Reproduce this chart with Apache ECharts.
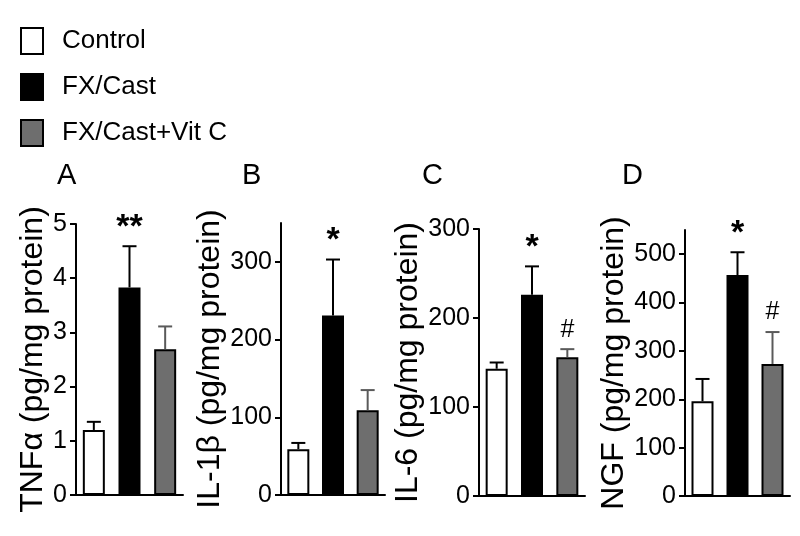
<!DOCTYPE html>
<html><head><meta charset="utf-8">
<script src="https://cdn.jsdelivr.net/npm/echarts@6/dist/echarts.min.js"></script>
<style>html,body{margin:0;padding:0;background:#fff}#c{width:800px;height:536px}</style>
</head><body><div id="c"></div>
<script>
const groups = ['Control', 'FX/Cast', 'FX/Cast+Vit C'];
const panelLetters = ['A', 'B', 'C', 'D'];
const yNames = ['TNFα (pg/mg protein)', 'IL-1β (pg/mg protein)', 'IL-6 (pg/mg protein)', 'NGF (pg/mg protein)'];
const yMax = [5, 350, 300, 550];
const yTicksA = [0, 1, 2, 3, 4, 5];
const yTicksB = [0, 100, 200, 300];
const yTicksC = [0, 100, 200, 300];
const yTicksD = [0, 100, 200, 300, 400, 500];
const meanA = [1.20, 3.83, 2.69];
const errA = [0.15, 0.76, 0.42];
const meanB = [59, 231, 109];
const errB = [8, 72, 26];
const meanC = [143, 226, 156];
const errC = [7, 32, 9];
const meanD = [196, 457, 273];
const errD = [46, 47, 66];
const sigA = ['', '**', ''];
const sigB = ['', '*', ''];
const sigC = ['', '*', '#'];
const sigD = ['', '*', '#'];

const panels = [
  {ticks: yTicksA, mean: meanA, err: errA, sig: sigA},
  {ticks: yTicksB, mean: meanB, err: errB, sig: sigB},
  {ticks: yTicksC, mean: meanC, err: errC, sig: sigC},
  {ticks: yTicksD, mean: meanD, err: errD, sig: sigD}
];
const fills = ['#ffffff', '#000000', '#6e6e6e'];
const errColors = ['#000000', '#000000', '#5a5a5a'];
const gridPos = [
  {left: 76, top: 224, width: 107, height: 271},
  {left: 281, top: 223, width: 104, height: 272},
  {left: 479, top: 229, width: 106, height: 267},
  {left: 685, top: 230, width: 105, height: 266}
];
const nameGaps = [25, 53, 50, 54];
const letterPos = [{left: 57, top: 161}, {left: 242, top: 161}, {left: 422, top: 161}, {left: 622, top: 161}];
const FONT = 'Liberation Sans, Arial, sans-serif';

const chart = echarts.init(document.getElementById('c'), null, {renderer: 'canvas'});
const series = [];
panels.forEach((p, pi) => {
  groups.forEach((g, gi) => {
    series.push({
      name: g, type: 'bar', xAxisIndex: pi, yAxisIndex: pi, stack: 'p' + pi,
      barWidth: 22, silent: true,
      itemStyle: {color: fills[gi], borderColor: '#000', borderWidth: 2},
      data: groups.map((_, i) => i === gi ? p.mean[i] : '-')
    });
  });
  series.push({
    type: 'custom', xAxisIndex: pi, yAxisIndex: pi, silent: true, z: 5,
    data: groups.map((_, i) => [i, p.mean[i], p.err[i]]),
    renderItem: function (params, api) {
      const i = api.value(0), m = api.value(1), e = api.value(2);
      const b = api.coord([i, m]);
      const t = api.coord([i, m + e]);
      const col = errColors[i];
      const children = [
        {type: 'line', shape: {x1: b[0], y1: b[1], x2: t[0], y2: t[1]}, style: {stroke: col, lineWidth: 2}},
        {type: 'line', shape: {x1: t[0] - 7, y1: t[1], x2: t[0] + 7, y2: t[1]}, style: {stroke: col, lineWidth: 2}}
      ];
      const s = p.sig[params.dataIndex];
      if (s) {
        const star = s.indexOf('*') >= 0;
        children.push({
          type: 'text',
          style: {
            text: s, x: t[0], y: t[1] - (star ? 2 : 7),
            align: 'center', verticalAlign: 'bottom',
            fontSize: star ? 34 : 25, fontWeight: star ? 'bold' : 'normal',
            fontFamily: FONT, fill: '#000'
          }
        });
      }
      return {type: 'group', children: children};
    }
  });
});

const option = {
  backgroundColor: '#fff',
  animation: false,
  title: panelLetters.map((l, i) => ({
    text: l, left: letterPos[i].left, top: letterPos[i].top, padding: 0,
    textStyle: {fontFamily: FONT, fontSize: 29, fontWeight: 'normal', color: '#000'}
  })),
  legend: {
    orient: 'vertical', left: 20, top: 27, itemWidth: 22, itemHeight: 26, itemGap: 18,
    icon: 'rect', selectedMode: false, padding: 0,
    data: groups.map((g, i) => ({name: g, itemStyle: {color: fills[i], borderColor: '#000', borderWidth: 2}})),
    textStyle: {fontFamily: FONT, fontSize: 26, lineHeight: 26, color: '#000', padding: [0, 0, 0, 14]}
  },
  grid: gridPos.map(g => Object.assign({containLabel: false}, g)),
  xAxis: gridPos.map((g, i) => ({
    type: 'category', gridIndex: i, data: groups,
    axisLine: {lineStyle: {color: '#000', width: 2}},
    axisTick: {show: false}, axisLabel: {show: false}, splitLine: {show: false}
  })),
  yAxis: panels.map((p, i) => ({
    type: 'value', gridIndex: i, min: 0, max: yMax[i],
    name: yNames[i], nameLocation: 'middle', nameGap: nameGaps[i],
    nameTextStyle: {fontFamily: FONT, fontSize: 32, color: '#000'},
    axisLine: {show: true, lineStyle: {color: '#000', width: 2}},
    axisTick: {show: true, length: 6, lineStyle: {color: '#000', width: 2}, customValues: p.ticks},
    axisLabel: {fontFamily: FONT, fontSize: 25, color: '#000', margin: 9, customValues: p.ticks},
    splitLine: {show: false}
  })),
  series: series
};
chart.setOption(option);
</script>
</body></html>
